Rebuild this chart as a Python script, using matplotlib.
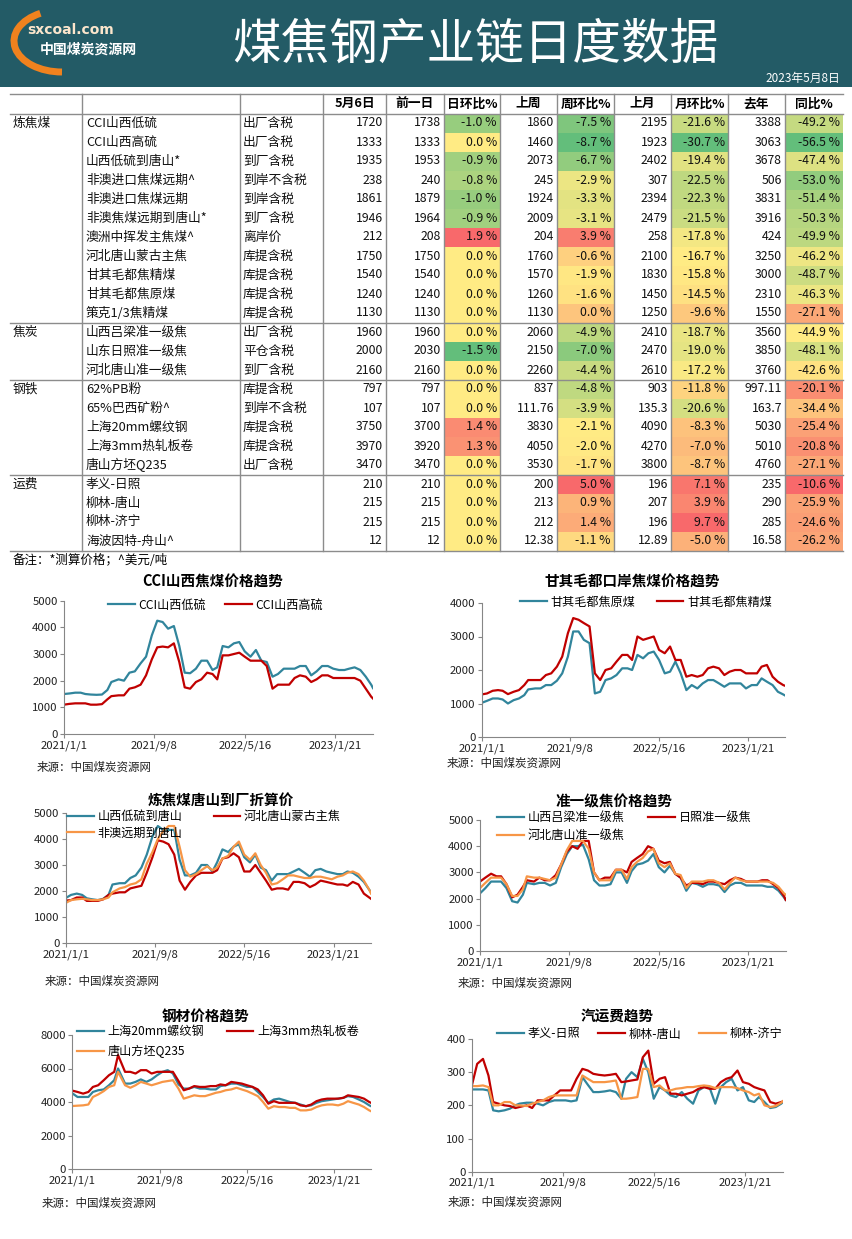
import numpy as np
import pandas as pd
import matplotlib
matplotlib.use('Agg')
import matplotlib.pyplot as plt
from matplotlib.patches import Rectangle, Arc
from matplotlib.colors import to_rgb

plt.rcParams['font.family'] = ['Noto Sans CJK SC', 'DejaVu Sans']
plt.rcParams['axes.unicode_minus'] = False

W, H = 853, 1239

# ---------------- table data ----------------
group_names = ['炼焦煤', '焦炭', '钢铁', '运费']
group_sizes = [11, 3, 5, 4]
head = ['5月6日', '前一日', '日环比%', '上周', '周环比%', '上月', '月环比%', '去年', '同比%']
names = ['CCI山西低硫', 'CCI山西高硫', '山西低硫到唐山*', '非澳进口焦煤远期^', '非澳进口焦煤远期',
         '非澳焦煤远期到唐山*', '澳洲中挥发主焦煤^', '河北唐山蒙古主焦', '甘其毛都焦精煤',
         '甘其毛都焦原煤', '策克1/3焦精煤',
         '山西吕梁准一级焦', '山东日照准一级焦', '河北唐山准一级焦',
         '62%PB粉', '65%巴西矿粉^', '上海20mm螺纹钢', '上海3mm热轧板卷', '唐山方坯Q235',
         '孝义-日照', '柳林-唐山', '柳林-济宁', '海波因特-舟山^']
terms = ['出厂含税', '出厂含税', '到厂含税', '到岸不含税', '到岸含税', '到厂含税', '离岸价',
         '库提含税', '库提含税', '库提含税', '库提含税',
         '出厂含税', '平仓含税', '到厂含税',
         '库提含税', '到岸不含税', '库提含税', '库提含税', '出厂含税',
         '', '', '', '']
price_now = [1720, 1333, 1935, 238, 1861, 1946, 212, 1750, 1540, 1240, 1130,
             1960, 2000, 2160, 797, 107, 3750, 3970, 3470, 210, 215, 215, 12]
price_prev = [1738, 1333, 1953, 240, 1879, 1964, 208, 1750, 1540, 1240, 1130,
              1960, 2030, 2160, 797, 107, 3700, 3920, 3470, 210, 215, 215, 12]
day_pct = [-1.0, 0.0, -0.9, -0.8, -1.0, -0.9, 1.9, 0.0, 0.0, 0.0, 0.0,
           0.0, -1.5, 0.0, 0.0, 0.0, 1.4, 1.3, 0.0, 0.0, 0.0, 0.0, 0.0]
price_week = [1860, 1460, 2073, 245, 1924, 2009, 204, 1760, 1570, 1260, 1130,
              2060, 2150, 2260, 837, 111.76, 3830, 4050, 3530, 200, 213, 212, 12.38]
week_pct = [-7.5, -8.7, -6.7, -2.9, -3.3, -3.1, 3.9, -0.6, -1.9, -1.6, 0.0,
            -4.9, -7.0, -4.4, -4.8, -3.9, -2.1, -2.0, -1.7, 5.0, 0.9, 1.4, -1.1]
price_month = [2195, 1923, 2402, 307, 2394, 2479, 258, 2100, 1830, 1450, 1250,
               2410, 2470, 2610, 903, 135.3, 4090, 4270, 3800, 196, 207, 196, 12.89]
month_pct = [-21.6, -30.7, -19.4, -22.5, -22.3, -21.5, -17.8, -16.7, -15.8, -14.5, -9.6,
             -18.7, -19.0, -17.2, -11.8, -20.6, -8.3, -7.0, -8.7, 7.1, 3.9, 9.7, -5.0]
price_year = [3388, 3063, 3678, 506, 3831, 3916, 424, 3250, 3000, 2310, 1550,
              3560, 3850, 3760, 997.11, 163.7, 5030, 5010, 4760, 235, 290, 285, 16.58]
year_pct = [-49.2, -56.5, -47.4, -53.0, -51.4, -50.3, -49.9, -46.2, -48.7, -46.3, -27.1,
            -44.9, -48.1, -42.6, -20.1, -34.4, -25.4, -20.8, -27.1, -10.6, -25.9, -24.6, -26.2]

# ---------------- chart data (semi-monthly readings) ----------------
dates = pd.to_datetime([
    '2021-01-01', '2021-01-16', '2021-02-01', '2021-02-16', '2021-03-01', '2021-03-16',
    '2021-04-01', '2021-04-16', '2021-05-01', '2021-05-12', '2021-06-01', '2021-06-16',
    '2021-07-01', '2021-07-16', '2021-08-01', '2021-08-16', '2021-09-01', '2021-09-16',
    '2021-10-01', '2021-10-16', '2021-11-01', '2021-11-16', '2021-12-01', '2021-12-16',
    '2022-01-01', '2022-01-16', '2022-02-01', '2022-02-16', '2022-03-01', '2022-03-16',
    '2022-04-01', '2022-04-16', '2022-05-01', '2022-05-16', '2022-06-01', '2022-06-16',
    '2022-07-01', '2022-07-16', '2022-08-01', '2022-08-16', '2022-09-01', '2022-09-16',
    '2022-10-01', '2022-10-16', '2022-11-01', '2022-11-16', '2022-12-01', '2022-12-16',
    '2023-01-01', '2023-01-16', '2023-02-01', '2023-02-16', '2023-03-01', '2023-03-16',
    '2023-04-01', '2023-04-16', '2023-05-01', '2023-05-06'])
tick_dates = pd.to_datetime(['2021-01-01', '2021-09-08', '2022-05-16', '2023-01-21'])
tick_labels = ['2021/1/1', '2021/9/8', '2022/5/16', '2023/1/21']

cci_low = [1500, 1520, 1550, 1550, 1500, 1480, 1470, 1480, 1650, 1950, 2050, 2000,
           2300, 2350, 2650, 2900, 3700, 4250, 4200, 3950, 4050, 3300, 2300, 2280,
           2450, 2750, 2750, 2400, 2500, 3300, 3250, 3400, 3450, 3100, 2900, 3150,
           2750, 2700, 2150, 2250, 2450, 2450, 2450, 2550, 2550, 2200, 2350, 2550,
           2550, 2450, 2400, 2400, 2450, 2500, 2400, 2150, 1850, 1720]
cci_high = [1100, 1130, 1150, 1150, 1150, 1100, 1100, 1120, 1300, 1420, 1450, 1450,
            1700, 1750, 1850, 2200, 2800, 3250, 3280, 3250, 3400, 2700, 1750, 1700,
            1950, 2050, 2300, 2250, 2050, 2950, 2950, 3000, 3050, 2900, 2750, 2750,
            2750, 2550, 1700, 1850, 1850, 1850, 2100, 2200, 2150, 1950, 2050, 2200,
            2200, 2100, 2100, 2100, 2100, 2100, 2000, 1700, 1400, 1330]
gq_raw = [1020, 1080, 1150, 1150, 1120, 1000, 1100, 1150, 1250, 1420, 1450, 1450,
          1550, 1550, 1680, 1900, 2400, 3150, 3150, 2900, 2800, 1300, 1350, 1700,
          1750, 1850, 2050, 2050, 2000, 2450, 2350, 2500, 2550, 2300, 1900, 1950,
          2250, 1900, 1400, 1550, 1450, 1600, 1700, 1700, 1600, 1500, 1600, 1600,
          1600, 1450, 1550, 1550, 1750, 1650, 1550, 1350, 1270, 1240]
gq_fine = [1270, 1300, 1380, 1400, 1380, 1280, 1350, 1400, 1550, 1700, 1700, 1700,
           1850, 1900, 2100, 2400, 3100, 3550, 3500, 3400, 3300, 1900, 1700, 2000,
           2050, 2250, 2450, 2450, 2300, 3000, 2900, 2950, 3000, 2600, 2500, 2700,
           2300, 2300, 1800, 1850, 1800, 1850, 2050, 2100, 2050, 1850, 1950, 2000,
           2000, 1900, 1900, 1900, 2100, 2150, 1800, 1650, 1550, 1530]
ts_sx = [1730, 1850, 1900, 1850, 1720, 1680, 1650, 1700, 1850, 2250, 2300, 2300,
         2500, 2600, 2900, 3400, 4100, 4500, 4350, 4350, 4350, 3200, 2600, 2600,
         2700, 3000, 3000, 2750, 3100, 3600, 3500, 3700, 3800, 3300, 3100, 3400,
         2900, 2800, 2400, 2650, 2650, 2650, 2750, 2850, 2700, 2550, 2800, 2850,
         2750, 2700, 2650, 2650, 2750, 2700, 2550, 2350, 2050, 1950]
ts_mg = [1630, 1650, 1750, 1750, 1620, 1620, 1620, 1680, 1850, 1900, 1950, 1950,
         2100, 2150, 2200, 2700, 3300, 3950, 3900, 3800, 3400, 2400, 2050, 2350,
         2600, 2700, 2700, 2700, 2800, 3250, 3300, 3450, 3300, 2750, 2750, 3000,
         2700, 2400, 2050, 2100, 2100, 2050, 2350, 2350, 2300, 2150, 2250, 2400,
         2350, 2300, 2250, 2250, 2200, 2350, 2250, 1900, 1750, 1700]
ts_fa = [1540, 1650, 1680, 1700, 1680, 1650, 1650, 1680, 1750, 1950, 2100, 2150,
         2250, 2300, 2450, 3050, 3500, 4000, 4300, 4500, 4500, 3700, 2800, 2550,
         2650, 2800, 2950, 2800, 2900, 3250, 3350, 3700, 3900, 3400, 3200, 3450,
         3000, 2700, 2250, 2300, 2450, 2600, 2600, 2550, 2500, 2500, 2550, 2550,
         2500, 2450, 2550, 2600, 2700, 2750, 2650, 2400, 2050, 1900]
coke_lv = [2200, 2400, 2650, 2650, 2650, 2400, 1900, 1850, 2150, 2600, 2550, 2600,
           2600, 2500, 2600, 3200, 3700, 4000, 4000, 4050, 3500, 2700, 2500, 2500,
           2550, 3000, 3000, 2600, 3050, 3300, 3350, 3450, 3700, 3200, 3000, 3250,
           2950, 2800, 2300, 2600, 2550, 2450, 2550, 2550, 2500, 2250, 2500, 2600,
           2600, 2500, 2500, 2500, 2500, 2450, 2450, 2300, 2050, 1950]
coke_rz = [2650, 2800, 2950, 2850, 2850, 2550, 2050, 2150, 2450, 2700, 2650, 2800,
           2700, 2700, 2900, 3300, 3800, 4000, 3900, 4200, 4200, 3000, 2700, 2800,
           2800, 3100, 3100, 3000, 3400, 3550, 3700, 4000, 3900, 3450, 3350, 3400,
           2950, 2800, 2500, 2600, 2600, 2550, 2650, 2650, 2600, 2550, 2700, 2800,
           2750, 2650, 2650, 2650, 2700, 2700, 2550, 2400, 2100, 1950]
coke_ts = [2400, 2600, 2800, 2800, 2800, 2550, 2100, 2100, 2350, 2850, 2800, 2800,
           2750, 2700, 2800, 3300, 3850, 4200, 4200, 4200, 3900, 3000, 2700, 2700,
           2700, 3100, 3100, 2750, 3200, 3400, 3550, 3800, 3900, 3350, 3200, 3350,
           2950, 2900, 2400, 2650, 2650, 2650, 2700, 2700, 2600, 2350, 2600, 2800,
           2700, 2650, 2650, 2650, 2650, 2650, 2600, 2450, 2200, 2150]
rebar = [4520, 4300, 4300, 4300, 4600, 4700, 4750, 5000, 5300, 6000, 5100, 5100,
         5200, 5350, 5200, 5350, 5600, 5800, 5900, 5700, 5050, 4800, 4800, 4900,
         4800, 4800, 4750, 4750, 4950, 5000, 5100, 5100, 5000, 4900, 4900, 4600,
         4300, 3950, 4150, 4200, 4100, 4000, 3950, 3850, 3750, 3800, 3950, 4050,
         4100, 4150, 4200, 4250, 4350, 4300, 4150, 4000, 3800, 3750]
hrc = [4680, 4600, 4500, 4600, 4900, 5000, 5300, 5600, 5800, 6800, 5800, 5800,
       5700, 5900, 5900, 5700, 5800, 5800, 5800, 5800, 5250, 4700, 4800, 4950,
       4900, 4900, 4950, 4950, 5050, 5000, 5200, 5150, 5100, 5000, 4900, 4750,
       4400, 3900, 4050, 3950, 3950, 3950, 3950, 3800, 3750, 3850, 4050, 4150,
       4200, 4200, 4200, 4250, 4400, 4350, 4300, 4200, 4000, 3950]
billet = [3760, 3780, 3800, 3850, 4300, 4450, 4650, 4900, 5000, 5800, 5000, 4850,
          5000, 5200, 5100, 5000, 5100, 5200, 5250, 5300, 4800, 4200, 4300, 4400,
          4350, 4350, 4450, 4550, 4600, 4700, 4750, 4850, 4750, 4650, 4500, 4350,
          4000, 3600, 3750, 3700, 3700, 3650, 3650, 3500, 3500, 3550, 3700, 3800,
          3850, 3850, 3800, 3900, 4050, 3950, 3850, 3700, 3500, 3450]
fr_xy_rz = [248, 248, 248, 245, 185, 182, 185, 190, 200, 205, 208, 208,
            205, 200, 210, 215, 215, 215, 212, 215, 285, 262, 240, 240,
            242, 245, 240, 220, 280, 300, 285, 340, 300, 220, 255, 245,
            230, 225, 240, 220, 205, 245, 255, 255, 205, 255, 270, 280,
            245, 255, 215, 210, 225, 210, 192, 195, 205, 210]
fr_ll_ts = [258, 325, 340, 290, 210, 205, 200, 198, 192, 195, 200, 192,
            215, 215, 215, 230, 245, 245, 245, 280, 310, 305, 295, 292,
            290, 292, 295, 270, 272, 275, 278, 345, 365, 265, 280, 285,
            235, 235, 230, 235, 240, 250, 255, 250, 250, 270, 280, 285,
            305, 270, 265, 255, 250, 245, 210, 205, 210, 212]
fr_ll_jn = [258, 258, 260, 255, 200, 200, 210, 210, 200, 200, 198, 205,
            210, 215, 225, 230, 230, 230, 230, 230, 290, 280, 270, 270,
            270, 272, 275, 220, 220, 222, 225, 310, 310, 255, 260, 245,
            245, 250, 252, 255, 255, 258, 260, 258, 252, 255, 255, 255,
            252, 245, 240, 230, 235, 200, 195, 198, 208, 213]

TEAL, RED, ORANGE = '#31859C', '#C00000', '#F79646'


def scale_colors(vals):
    """Excel style 3-colour scale: min green, median yellow, max red"""
    v = np.asarray(vals, float)
    lo, mid, hi = v.min(), np.percentile(v, 50), v.max()
    g, y, r = [np.array(to_rgb(c)) for c in ('#63BE7B', '#FFEB84', '#F8696B')]
    out = []
    for x in v:
        if x <= mid:
            t = 0.0 if mid == lo else (x - lo) / (mid - lo)
            out.append(g + (y - g) * t)
        else:
            t = (x - mid) / (hi - mid)
            out.append(y + (r - y) * t)
    return out


fig = plt.figure(figsize=(W / 100, H / 100), dpi=100)
bg = fig.add_axes([0, 0, 1, 1])
bg.set_xlim(0, W)
bg.set_ylim(H, 0)
bg.axis('off')

# ---- header ----
bg.add_patch(Rectangle((0, 0), W, 87, color='#235B66', lw=0))
bg.add_patch(Arc((62, 41), 96, 62, theta1=90, theta2=232, color='#F0821E', lw=5))
bg.text(27, 30, 'sxcoal.com', color='#FCE6CC', fontsize=10, fontweight='bold',
        ha='left', va='center', family=['DejaVu Sans'])
bg.text(40, 50, '中国煤炭资源网', color='white', fontsize=10, fontweight='bold',
        ha='left', va='center')
bg.text(475, 45, '煤焦钢产业链日度数据', color='white', fontsize=35, ha='center', va='center')
bg.text(840, 78, '2023年5月8日', color='white', fontsize=8.5, ha='right', va='center')

# ---- table ----
edges = [10, 82, 240, 323, 386, 444, 500, 557, 614, 671, 728, 785, 843]
top, y0, rh = 94, 113.5, 19
cols = [price_now, price_prev, day_pct, price_week, week_pct,
        price_month, month_pct, price_year, year_pct]
pct_cols = {2, 4, 6, 8}
line_c = '#8C8C8C'

for k, col in enumerate(cols):
    c = 3 + k
    if k in pct_cols:
        for i, rgb in enumerate(scale_colors(col)):
            bg.add_patch(Rectangle((edges[c], y0 + i * rh), edges[c + 1] - edges[c], rh,
                                   color=rgb, lw=0))
    for i, v in enumerate(col):
        s = f'{v:.1f} %' if k in pct_cols else f'{v:g}'
        bg.text(edges[c + 1] - 3, y0 + (i + 0.5) * rh, s, ha='right', va='center',
                fontsize=8.8, color='#111111')
    bg.text((edges[c] + edges[c + 1]) / 2, (top + y0) / 2, head[k], ha='center',
            va='center', fontsize=9.2, fontweight='bold')

for i, (nm, tm) in enumerate(zip(names, terms)):
    yc = y0 + (i + 0.5) * rh
    bg.text(edges[1] + 4, yc, nm, ha='left', va='center', fontsize=9.2, color='#111111')
    bg.text(edges[2] + 3, yc, tm, ha='left', va='center', fontsize=9.2, color='#111111')

hlines = [top, y0]
start = 0
for gname, gsize in zip(group_names, group_sizes):
    bg.text(edges[0] + 3, y0 + (start + 0.5) * rh, gname, ha='left', va='center',
            fontsize=9.2, color='#111111')
    start += gsize
    hlines.append(y0 + start * rh)
for yy in hlines:
    bg.plot([edges[0], edges[-1]], [yy, yy], color=line_c, lw=1.0)
for xx in edges[1:-1]:
    bg.plot([xx, xx], [top, hlines[-1]], color=line_c, lw=1.0)
bg.text(edges[0] + 3, 560, '备注：*测算价格；^美元/吨', ha='left', va='center', fontsize=9)

# ---- charts ----
charts = [
    dict(box=(64, 600.7, 373, 734), title='CCI山西焦煤价格趋势', txy=(213, 582),
         data=[cci_low, cci_high], labels=['CCI山西低硫', 'CCI山西高硫'],
         colors=[TEAL, RED], ymax=5000, ystep=1000, leg=(108, 605), ncol=2,
         colsp=1.6, lsp=0.1, src=(37, 767)),
    dict(box=(481.7, 603, 785, 737), title='甘其毛都口岸焦煤价格趋势', txy=(632, 582),
         data=[gq_raw, gq_fine], labels=['甘其毛都焦原煤', '甘其毛都焦精煤'],
         colors=[TEAL, RED], ymax=4000, ystep=1000, leg=(520, 602), ncol=2,
         colsp=1.8, lsp=0.1, src=(447, 763)),
    dict(box=(65.7, 813, 371, 943), title='炼焦煤唐山到厂折算价', txy=(221, 800),
         data=[ts_sx, ts_mg, ts_fa], labels=['山西低硫到唐山', '河北唐山蒙古主焦', '非澳远期到唐山'],
         colors=[TEAL, RED, ORANGE], ymax=5000, ystep=1000, leg=(67, 817), ncol=2,
         colsp=2.6, lsp=0.3, src=(45, 981)),
    dict(box=(480, 820, 785.7, 951), title='准一级焦价格趋势', txy=(614, 801),
         data=[coke_lv, coke_rz, coke_ts], labels=['山西吕梁准一级焦', '日照准一级焦', '河北唐山准一级焦'],
         colors=[TEAL, RED, ORANGE], ymax=5000, ystep=1000, leg=(497, 818), ncol=2,
         colsp=2.0, lsp=0.45, src=(458, 983)),
    dict(box=(72.3, 1035, 371, 1169), title='钢材价格趋势', txy=(206, 1017),
         data=[rebar, hrc, billet], labels=['上海20mm螺纹钢', '上海3mm热轧板卷', '唐山方坯Q235'],
         colors=[TEAL, RED, ORANGE], ymax=8000, ystep=2000, leg=(77, 1032), ncol=2,
         colsp=1.9, lsp=0.55, src=(42, 1203)),
    dict(box=(471.7, 1039, 783, 1171.7), title='汽运费趋势', txy=(617, 1016),
         data=[fr_xy_rz, fr_ll_ts, fr_ll_jn], labels=['孝义-日照', '柳林-唐山', '柳林-济宁'],
         colors=[TEAL, RED, ORANGE], ymax=400, ystep=100, leg=(497, 1034), ncol=3,
         colsp=1.5, lsp=0.1, src=(448, 1202)),
]

for ch in charts:
    x0, ya, x1, yb = ch['box']
    ax = fig.add_axes([x0 / W, 1 - yb / H, (x1 - x0) / W, (yb - ya) / H])
    lines = []
    for d, lab, col in zip(ch['data'], ch['labels'], ch['colors']):
        ln, = ax.plot(dates, d, color=col, lw=1.6, label=lab)
        lines.append(ln)
    ax.set_xlim(dates[0], dates[-1])
    ax.set_ylim(0, ch['ymax'])
    ax.set_yticks(np.arange(0, ch['ymax'] + 1, ch['ystep']))
    ax.set_xticks(tick_dates)
    ax.set_xticklabels(tick_labels)
    ax.patch.set_alpha(0)
    for s in ['top', 'right']:
        ax.spines[s].set_visible(False)
    for s in ['left', 'bottom']:
        ax.spines[s].set_color('#868686')
        ax.spines[s].set_linewidth(0.8)
    ax.tick_params(length=3, color='#868686', labelsize=8.2, pad=1.5, labelcolor='#222222')

    if len(lines) == 3 and ch['ncol'] == 2:
        handles = [lines[0], lines[2], lines[1]]
        loc, ly = 'upper left', ch['leg'][1] - 7
    else:
        handles = lines
        loc, ly = 'center left', ch['leg'][1]
    ax.legend(handles=handles, loc=loc, bbox_to_anchor=(ch['leg'][0] / W, 1 - ly / H),
              bbox_transform=fig.transFigure, ncol=ch['ncol'], frameon=False,
              fontsize=8.7, handlelength=2.2, handletextpad=0.3,
              columnspacing=ch['colsp'], borderpad=0, borderaxespad=0,
              labelspacing=ch['lsp'])

    fig.text(ch['txy'][0] / W, 1 - ch['txy'][1] / H, ch['title'], ha='center',
             va='center', fontsize=10.5, fontweight='bold')
    fig.text(ch['src'][0] / W, 1 - ch['src'][1] / H, '来源：中国煤炭资源网', ha='left',
             va='center', fontsize=8.3, color='#222222')

fig.savefig('out.png', dpi=100)
